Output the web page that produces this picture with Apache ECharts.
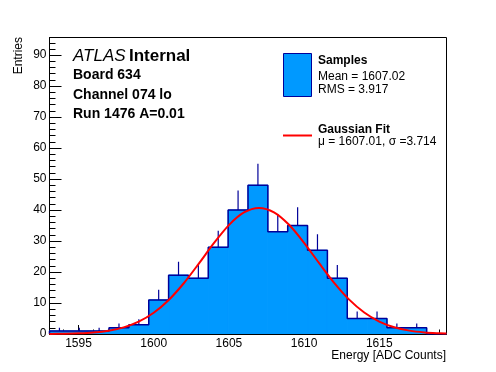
<!DOCTYPE html>
<html>
<head>
<meta charset="utf-8">
<script src="https://cdn.jsdelivr.net/npm/echarts@6/dist/echarts.min.js"></script>
<style>
html,body{margin:0;padding:0;background:#fff;}
#chart{width:496px;height:372px;}
</style>
</head>
<body>
<div id="chart"></div>
<script>
// ---- data ----
var xMin = 1593.07, xMax = 1619.47;
var binLow = 1593.07, binWidth = 1.32;
var counts = [1, 1, 1, 2, 3, 11, 19, 18, 28, 40, 48, 33, 35, 27, 18, 5, 5, 2, 2, 0];
var errors = [1, 1, 1, 1.41, 1.73, 3.32, 4.36, 4.24, 5.29, 6.32, 6.93, 5.74, 5.92, 5.2, 4.24, 2.24, 2.24, 1.41, 1.41, 0];
var fitX = [1593.07, 1594, 1595, 1596, 1597, 1598, 1599, 1600, 1601, 1602, 1603, 1604, 1605, 1606, 1607, 1608, 1609, 1610, 1611, 1612, 1613, 1614, 1615, 1616, 1617, 1618, 1619, 1619.47];
var fitY = [0.03, 0.09, 0.22, 0.5, 1.08, 2.14, 3.98, 6.85, 10.99, 16.38, 22.72, 29.31, 35.15, 39.22, 40.7, 39.28, 35.25, 29.43, 22.85, 16.5, 11.09, 6.93, 4.02, 2.17, 1.09, 0.51, 0.22, 0.14];
var yMax = 95.7;
var xMajorTicks = [1595, 1600, 1605, 1610, 1615];
var xMinorTicks = [1594, 1596, 1597, 1598, 1599, 1601, 1602, 1603, 1604, 1606, 1607, 1608, 1609, 1611, 1612, 1613, 1614, 1616, 1617, 1618, 1619];
var yMajorTicks = [0, 10, 20, 30, 40, 50, 60, 70, 80, 90];
var yMinorTicks = [2, 4, 6, 8, 12, 14, 16, 18, 22, 24, 26, 28, 32, 34, 36, 38, 42, 44, 46, 48, 52, 54, 56, 58, 62, 64, 66, 68, 72, 74, 76, 78, 82, 84, 86, 88, 92, 94];
var headerLines = ['Board 634', 'Channel 074 lo', 'Run 1476 A=0.01'];
var legendSamples = ['Samples', 'Mean = 1607.02', 'RMS = 3.917'];
var legendFit = ['Gaussian Fit', 'μ = 1607.01, σ =3.714'];
var xTitle = 'Energy [ADC Counts]';
var yTitle = 'Entries';

// ---- build tables ----
var barData = counts.map(function (c, i) {
  return [binLow + i * binWidth, binLow + (i + 1) * binWidth, c];
});
var stepData = [[binLow, 0]];
counts.forEach(function (c, i) { stepData.push([binLow + i * binWidth, c]); });
stepData.push([binLow + counts.length * binWidth, 0]);
var errData = counts.map(function (c, i) {
  return [binLow + (i + 0.5) * binWidth, c, c + errors[i]];
}).filter(function (d) { return d[2] > d[1]; });
var fitData = fitX.map(function (x, i) { return [x, fitY[i]]; });

var FONT = "'Liberation Sans', Arial, Helvetica, sans-serif";
var FILL = '#0099ff', EDGE = '#000099';

var chart = echarts.init(document.getElementById('chart'), null, {renderer: 'canvas'});

function plain(v) { return String(Math.round(v)); }

function xAxisCfg(ticks, len, labels) {
  return {
    type: 'value', min: xMin, max: xMax, position: 'bottom',
    axisLine: {show: labels, onZero: false, lineStyle: {color: '#000', width: 1}},
    axisTick: {show: true, inside: true, length: len, customValues: ticks, lineStyle: {color: '#000', width: 1}},
    axisLabel: {show: labels, customValues: ticks, formatter: plain, margin: 4, color: '#000', fontSize: 12, fontFamily: FONT},
    splitLine: {show: false}
  };
}
function yAxisCfg(ticks, len, labels) {
  return {
    type: 'value', min: 0, max: yMax, position: 'left',
    axisLine: {show: labels, onZero: false, lineStyle: {color: '#000', width: 1}},
    axisTick: {show: true, inside: true, length: len, customValues: ticks, lineStyle: {color: '#000', width: 1}},
    axisLabel: {show: labels, customValues: ticks, formatter: plain, margin: 3, color: '#000', fontSize: 12, fontFamily: FONT},
    splitLine: {show: false}
  };
}

var graphics = [];
graphics.push({
  type: 'text', x: 73, y: 56, z: 100,
  style: {
    text: '{a|ATLAS} {b|Internal}', verticalAlign: 'middle', align: 'left',
    rich: {
      a: {font: 'italic 17px ' + FONT, fill: '#000'},
      b: {font: 'bold 17px ' + FONT, fill: '#000'}
    }
  }
});
var headerY = [75, 95, 114];
headerLines.forEach(function (t, i) {
  graphics.push({type: 'text', x: 73, y: headerY[i], z: 100,
    style: {text: t, font: 'bold 14px ' + FONT, fill: '#000', verticalAlign: 'middle', align: 'left'}});
});
// legend
graphics.push({type: 'rect', shape: {x: 283.5, y: 53.5, width: 28, height: 43}, z: 100,
  style: {fill: FILL, stroke: EDGE, lineWidth: 1}});
graphics.push({type: 'line', shape: {x1: 283, y1: 135.5, x2: 312, y2: 135.5}, z: 100,
  style: {stroke: '#ff0000', lineWidth: 2}});
var sampY = [61, 76.5, 90];
legendSamples.forEach(function (t, i) {
  graphics.push({type: 'text', x: 318, y: sampY[i], z: 100,
    style: {text: t, font: (i === 0 ? 'bold ' : '') + '12px ' + FONT, fill: '#000', verticalAlign: 'middle', align: 'left'}});
});
var fitYpos = [129.5, 142];
legendFit.forEach(function (t, i) {
  graphics.push({type: 'text', x: 318, y: fitYpos[i], z: 100,
    style: {text: t, font: (i === 0 ? 'bold ' : '') + '12px ' + FONT, fill: '#000', verticalAlign: 'middle', align: 'left'}});
});
// axis titles
graphics.push({type: 'text', x: 446, y: 355.5, z: 100,
  style: {text: xTitle, font: '12px ' + FONT, fill: '#000', verticalAlign: 'middle', align: 'right'}});
graphics.push({type: 'text', x: 19, y: 37, rotation: Math.PI / 2, z: 100,
  style: {text: yTitle, font: '12px ' + FONT, fill: '#000', verticalAlign: 'middle', align: 'right'}});

chart.setOption({
  animation: false,
  backgroundColor: '#fff',
  grid: {left: 49.5, right: 49.5, top: 37.5, bottom: 38, show: true, borderColor: '#000', borderWidth: 1, backgroundColor: 'transparent'},
  xAxis: [xAxisCfg(xMajorTicks, 9, true), xAxisCfg(xMinorTicks, 4.5, false)],
  yAxis: [yAxisCfg(yMajorTicks, 12, true), yAxisCfg(yMinorTicks, 6, false)],
  graphic: graphics,
  series: [
    {
      type: 'custom', xAxisIndex: 0, yAxisIndex: 0, clip: true, z: 2,
      data: barData,
      encode: {x: [0, 1], y: 2},
      renderItem: function (params, api) {
        var p0 = api.coord([api.value(0), api.value(2)]);
        var p1 = api.coord([api.value(1), 0]);
        return {type: 'rect', shape: {x: p0[0], y: p0[1], width: p1[0] - p0[0], height: p1[1] - p0[1]},
          style: {fill: FILL, stroke: FILL, lineWidth: 1}};
      }
    },
    {
      type: 'line', xAxisIndex: 0, yAxisIndex: 0, step: 'end', data: stepData, z: 3,
      symbol: 'none', lineStyle: {color: EDGE, width: 1.5}, clip: true, silent: true
    },
    {
      type: 'custom', xAxisIndex: 0, yAxisIndex: 0, clip: true, z: 4,
      data: errData,
      encode: {x: 0, y: [1, 2]},
      renderItem: function (params, api) {
        var a = api.coord([api.value(0), api.value(1)]);
        var b = api.coord([api.value(0), api.value(2)]);
        return {type: 'line', shape: {x1: a[0], y1: a[1], x2: b[0], y2: b[1]},
          style: {stroke: EDGE, lineWidth: 1.2}};
      }
    },
    {
      type: 'line', xAxisIndex: 0, yAxisIndex: 0, data: fitData, smooth: 0.3, z: 5,
      symbol: 'none', lineStyle: {color: '#ff0000', width: 2}, clip: true, silent: true
    }
  ]
});
</script>
</body>
</html>
